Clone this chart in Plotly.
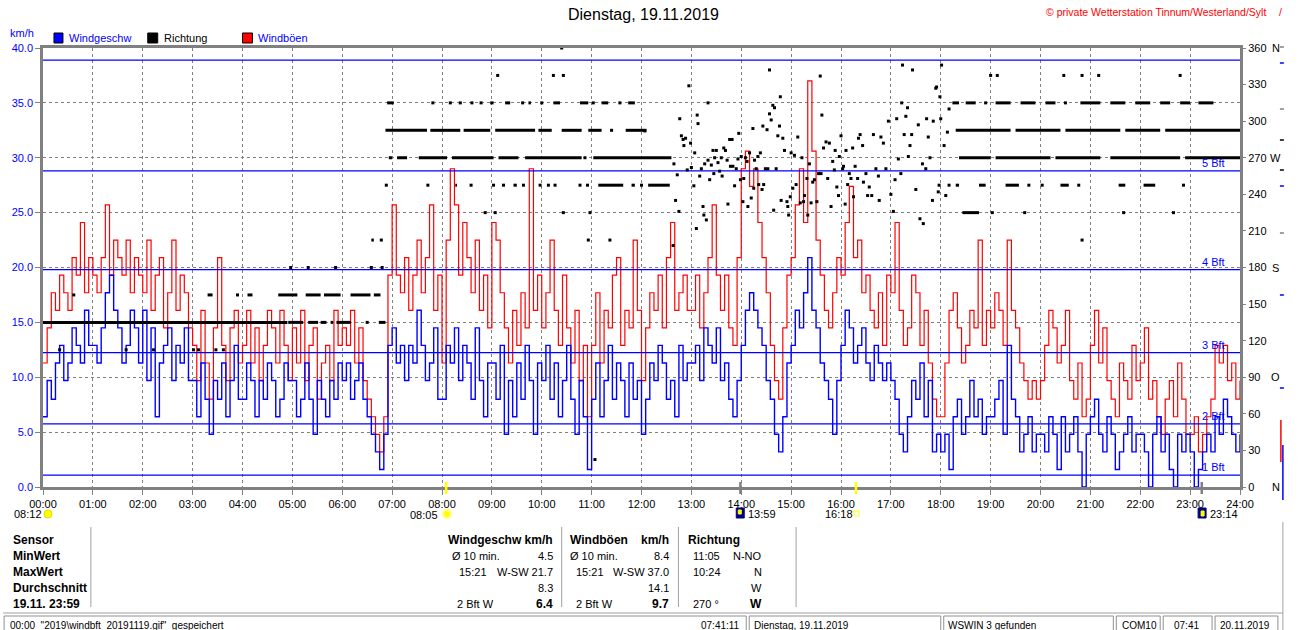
import plotly.graph_objects as go

FONT = "Liberation Sans, Arial, sans-serif"
KMH_PER_MPH = 1.609344

hour_labels = ["00:00", "01:00", "02:00", "03:00", "04:00", "05:00", "06:00", "07:00",
               "08:00", "09:00", "10:00", "11:00", "12:00", "13:00", "14:00", "15:00",
               "16:00", "17:00", "18:00", "19:00", "20:00", "21:00", "22:00", "23:00", "24:00"]

# 5-minute samples, station logs whole mph values
wind_mph = [
    4, 6, 5, 7, 8, 6, 7, 9, 8, 7, 10, 8,        # 00
    8, 7, 9, 11, 12, 10, 9, 7, 8, 10, 9, 7,     # 01
    10, 6, 9, 4, 7, 8, 9, 6, 8, 7, 9, 6,        # 02
    6, 4, 7, 5, 3, 6, 5, 7, 4, 6, 8, 5,         # 03
    5, 7, 6, 4, 6, 5, 7, 6, 4, 5, 7, 6,         # 04
    6, 4, 5, 7, 5, 3, 6, 5, 4, 6, 5, 7,         # 05
    6, 7, 5, 6, 7, 5, 4, 3, 2, 1, 3, 8,         # 06
    9, 7, 8, 6, 8, 7, 10, 8, 6, 7, 9, 5,        # 07
    5, 8, 7, 9, 6, 8, 7, 5, 9, 6, 4, 7,         # 08
    7, 5, 8, 3, 6, 4, 7, 5, 8, 6, 3, 7,         # 09
    6, 8, 5, 7, 4, 6, 8, 5, 3, 6, 4, 1,         # 10
    5, 7, 4, 6, 8, 5, 7, 6, 4, 7, 5, 6,         # 11
    3, 5, 7, 6, 8, 7, 5, 6, 4, 8, 6, 7,         # 12
    7, 8, 6, 9, 8, 7, 9, 6, 7, 5, 4, 6,         # 13
    8, 10, 11, 10, 9, 8, 6, 5, 3, 2, 4, 7,      # 14
    8, 10, 9, 11, 13, 10, 9, 7, 6, 5, 3, 6,     # 15
    8, 10, 9, 7, 8, 9, 7, 6, 8, 7, 6, 7,        # 16
    6, 5, 3, 2, 4, 6, 5, 7, 4, 6, 2, 3,         # 17
    2, 3, 1, 4, 5, 3, 4, 6, 4, 5, 3, 4,         # 18
    4, 5, 6, 3, 8, 5, 4, 2, 3, 4, 2, 3,         # 19
    3, 2, 4, 3, 1, 4, 2, 3, 4, 2, 0, 3,         # 20
    4, 5, 3, 2, 4, 3, 1, 2, 3, 4, 2, 3,         # 21
    3, 2, 0, 3, 4, 2, 3, 1, 0, 3, 2, 3,         # 22
    2, 0, 1, 2, 3, 2, 4, 3, 5, 4, 3, 2,         # 23
    3]

gust_mph = [
    7, 9, 11, 10, 12, 11, 10, 13, 12, 15, 11, 13,    # 00
    12, 11, 13, 16, 12, 14, 13, 12, 14, 11, 13, 12,  # 01
    11, 14, 10, 12, 13, 9, 11, 14, 10, 12, 11, 9,    # 02
    8, 6, 10, 7, 5, 9, 13, 8, 6, 9, 10, 7,           # 03
    8, 10, 7, 9, 6, 8, 10, 9, 7, 10, 8, 6,           # 04
    9, 7, 10, 6, 8, 9, 5, 7, 8, 6, 10, 8,            # 05
    9, 8, 10, 7, 9, 6, 5, 4, 3, 2, 4, 12,            # 06
    16, 12, 11, 13, 10, 12, 14, 11, 13, 16, 10, 12,  # 07
    7, 14, 18, 16, 12, 15, 13, 11, 14, 10, 12, 9,    # 08
    15, 14, 11, 9, 7, 10, 8, 11, 9, 18, 10, 12,      # 09
    9, 11, 14, 10, 8, 12, 9, 7, 10, 6, 8, 4,         # 10
    8, 11, 7, 10, 9, 12, 13, 8, 10, 9, 14, 10,       # 11
    6, 9, 11, 10, 12, 9, 13, 15, 10, 11, 12, 10,     # 12
    10, 12, 9, 11, 13, 16, 12, 10, 12, 9, 8, 13,     # 13
    18, 19, 17, 18, 15, 13, 11, 8, 6, 5, 9, 12,      # 14
    13, 16, 18, 15, 23, 19, 14, 12, 10, 9, 11, 13,   # 15
    12, 15, 17, 13, 14, 11, 12, 10, 9, 11, 8, 12,    # 16
    11, 15, 10, 8, 9, 12, 11, 8, 10, 7, 5, 4,        # 17
    4, 7, 10, 11, 9, 7, 8, 10, 9, 14, 8, 10,         # 18
    9, 11, 10, 8, 14, 10, 9, 7, 6, 5, 6, 5,          # 19
    6, 8, 10, 9, 7, 8, 10, 6, 5, 7, 4, 5,            # 20
    8, 10, 7, 9, 6, 5, 4, 7, 6, 5, 8, 6,             # 21
    7, 9, 5, 6, 4, 3, 5, 6, 4, 7, 5, 3,              # 22
    3, 4, 2, 3, 4, 5, 8, 7, 8, 6, 7, 5,              # 23
    6]

# direction: runs of consecutive readings in one sector (minutes since midnight)
dir_seg_deg = [135, 135, 135, 135, 135, 135, 135,
               157.5, 157.5, 157.5, 157.5, 157.5, 157.5, 157.5,
               202.5, 225,
               247.5, 247.5, 247.5, 247.5, 247.5, 247.5, 247.5, 247.5, 247.5, 247.5, 247.5,
               270, 270, 270, 270, 270, 270, 270, 270, 270, 270, 270, 270,
               292.5, 292.5, 292.5, 292.5, 292.5, 292.5, 292.5, 292.5, 292.5, 292.5, 292.5, 292.5, 292.5,
               315, 315, 315, 315, 315, 315, 315, 315, 315, 315, 315, 315, 315, 315, 315, 315, 315, 315, 315]
dir_seg_start = [0, 295, 319, 334, 346, 353, 404,
                 198, 246, 283, 316, 338, 370, 398,
                 395, 1106,
                 496, 566, 668, 708, 728, 1098, 1126, 1158, 1224, 1294, 1324,
                 416, 426, 452, 492, 548, 580, 662, 1102, 1146, 1218, 1284, 1374,
                 412, 466, 506, 544, 596, 624, 656, 701, 1098, 1170, 1230, 1302, 1350,
                 414, 538, 556, 584, 614, 646, 672, 704, 1094, 1110, 1146, 1176, 1206, 1248, 1284, 1314, 1344, 1368, 1390]
dir_seg_end = [294, 313, 331, 341, 349, 370, 412,
               204, 252, 306, 334, 358, 394, 406,
               398, 1126,
               498, 570, 698, 712, 754, 1102, 1134, 1174, 1234, 1302, 1338,
               420, 438, 486, 542, 572, 648, 756, 1140, 1212, 1272, 1368, 1440,
               462, 502, 538, 592, 612, 648, 672, 726, 1164, 1224, 1296, 1344, 1440,
               422, 542, 562, 587, 622, 656, 680, 712, 1102, 1122, 1164, 1194, 1218, 1272, 1302, 1332, 1356, 1380, 1408]

# direction: isolated sector readings
dir_pt_min = [20, 100, 133, 181, 187, 208, 217,
              390, 37, 234,
              298, 319, 352, 395, 408,
              407, 656, 682, 1250,
              532, 544, 626, 658, 1142, 1181, 1300, 1360,
              413, 463, 515, 542, 554, 578, 598, 608, 616, 646, 655, 720, 1078, 1090, 1186, 1202, 1246, 1372,
              652, 684,
              469, 490, 502, 516, 527, 577, 600, 662, 694, 1134, 1230,
              547, 614, 626, 1140, 1148, 1228, 1250, 1270, 1368,
              624, 664]
dir_pt_deg = [112.5, 112.5, 112.5, 112.5, 112.5, 112.5, 112.5,
              135, 157.5, 157.5,
              180, 180, 180, 180, 180,
              202.5, 202.5, 202.5, 202.5,
              225, 225, 225, 225, 225, 225, 225, 225,
              247.5, 247.5, 247.5, 247.5, 247.5, 247.5, 247.5, 247.5, 247.5, 247.5, 247.5, 247.5,
              247.5, 247.5, 247.5, 247.5, 247.5, 247.5,
              270, 292.5,
              315, 315, 315, 315, 315, 315, 315, 315, 315, 315, 315,
              337.5, 337.5, 337.5, 337.5, 337.5, 337.5, 337.5, 337.5, 337.5,
              360, 22.5]

# direction: variable readings 12:00 - 18:00 (degrees)
dir_var_min = [724, 758, 759, 761, 763, 765, 766, 768, 770, 771,
               773, 775, 777, 779, 780, 783, 784, 786, 787, 788,
               790, 792, 794, 795, 796, 798, 800, 800, 802, 804,
               806, 807, 808, 810, 812, 814, 816, 817, 819, 821,
               823, 824, 826, 827, 829, 830, 832, 834, 836, 837,
               839, 840, 842, 843, 845, 847, 848, 850, 852, 854,
               855, 856, 858, 860, 861, 863, 865, 866, 867, 869,
               871, 872, 874, 874, 876, 878, 879, 880, 882, 884,
               886, 887, 888, 890, 892, 895, 896, 897, 899, 900,
               902, 904, 906, 908, 911, 913, 915, 916, 919, 920,
               922, 924, 926, 928, 931, 933, 935, 936, 937, 939,
               942, 944, 946, 948, 950, 952, 953, 955, 957, 958,
               960, 962, 963, 965, 966, 968, 970, 972, 974, 975,
               977, 980, 981, 983, 986, 987, 990, 992, 994, 997,
               999, 1002, 1005, 1006, 1008, 1011, 1014, 1017, 1020, 1023,
               1025, 1027, 1029, 1032, 1033, 1034, 1036, 1038, 1040, 1041,
               1043, 1045, 1046, 1050, 1053, 1055, 1058, 1059, 1062, 1063,
               1065, 1067, 1070, 1071, 1074, 1075, 1077, 1079, 1080, 1081,
               1084, 1086, 1088, 1090]
dir_var_deg = [292, 198, 265, 235, 256, 226, 302, 288, 285, 280,
               286, 260, 329, 282, 262, 247, 274, 212, 305, 298,
               255, 261, 230, 223, 265, 219, 315, 268, 252, 264,
               276, 257, 270, 276, 266, 259, 270, 255, 278, 276,
               268, 232, 285, 263, 285, 263, 247, 261, 269, 290,
               252, 271, 234, 253, 270, 267, 230, 274, 237, 294,
               245, 268, 261, 271, 248, 274, 244, 296, 248, 261,
               293, 261, 342, 306, 301, 313, 227, 311, 261, 288,
               296, 320, 235, 286, 276, 234, 230, 223, 238, 274,
               245, 272, 248, 287, 233, 270, 234, 239, 253, 223,
               265, 233, 250, 252, 234, 257, 337, 257, 305, 278,
               283, 253, 282, 230, 267, 260, 276, 246, 239, 271,
               288, 261, 263, 232, 276, 248, 257, 253, 278, 238,
               263, 253, 286, 289, 280, 250, 257, 239, 246, 239,
               289, 261, 255, 235, 287, 282, 261, 300, 240, 226,
               252, 302, 269, 257, 315, 346, 289, 304, 311, 271,
               280, 289, 342, 244, 297, 220, 265, 216, 261, 302,
               287, 270, 235, 300, 327, 328, 242, 320, 302, 346,
               280, 239, 291, 310]

bft_kmh = [1.08, 5.76, 12.24, 19.8, 28.8, 38.9]
bft_labels = ["1 Bft", "2 Bft", "3 Bft", "4 Bft", "5 Bft", ""]

deg_ticks = [0, 30, 60, 90, 120, 150, 180, 210, 240, 270, 300, 330, 360]
deg_letters = ["N", "", "", "O", "", "", "S", "", "", "W", "", "", "N"]
kmh_ticks = [0, 5, 10, 15, 20, 25, 30, 35, 40]

# sun / moon events
event_minutes = [485, 839, 978, 1394]
event_colors = ["#ffff00", "#808080", "#ffff00", "#808080"]

table_labels = ["Sensor", "MinWert", "MaxWert", "Durchschnitt", "19.11. 23:59"]
status_fields = ['00:00  "2019\\windbft_20191119.gif"  gespeichert', "07:41:11",
                 "Dienstag, 19.11.2019", "WSWIN 3 gefunden", "COM10", "07:41", "20.11.2019"]

# ------------------------------------------------------------------
W, H = 1310, 630
PL, PR, PT, PB = 40, 1240, 48, 487


def px(x):
    return (x - PL) / (PR - PL)


def py(y):
    return (PB - y) / (PB - PT)


wind_kmh = [round(v * KMH_PER_MPH, 1) for v in wind_mph]
gust_kmh = [round(v * KMH_PER_MPH, 1) for v in gust_mph]
t_wind = [5 * i for i in range(len(wind_kmh))]
t_gust = [5 * i for i in range(len(gust_kmh))]

fig = go.Figure()

fig.add_trace(go.Scatter(x=t_gust, y=gust_kmh, mode="lines", line=dict(color="#ff0000", width=1.2, shape="hv"),
                         hoverinfo="skip"))
fig.add_trace(go.Scatter(x=t_wind, y=wind_kmh, mode="lines", line=dict(color="#0000ff", width=1.4, shape="hv"),
                         hoverinfo="skip"))

sx, sy = [], []
for d, a, b in zip(dir_seg_deg, dir_seg_start, dir_seg_end):
    sx += [a, b, None]
    sy += [d, d, None]
fig.add_trace(go.Scatter(x=sx, y=sy, yaxis="y2", mode="lines", line=dict(color="black", width=3),
                         hoverinfo="skip"))
fig.add_trace(go.Scatter(x=dir_pt_min + dir_var_min, y=dir_pt_deg + dir_var_deg, yaxis="y2", mode="markers",
                         marker=dict(symbol="square", size=3, color="black", line=dict(width=0)),
                         hoverinfo="skip"))

for v in bft_kmh:
    fig.add_trace(go.Scatter(x=[0, 1440], y=[v, v], mode="lines", line=dict(color="#0000ff", width=1.3),
                             hoverinfo="skip"))

ann = []
shapes = []


def note(text, x, y, xa="left", ya="middle", size=11, color="black", bold=False):
    if bold:
        text = "<b>" + text + "</b>"
    ann.append(dict(text=text, x=px(x), y=py(y), xref="paper", yref="paper", xanchor=xa, yanchor=ya,
                    showarrow=False, font=dict(family=FONT, size=size, color=color)))


def rect(x0, y0, x1, y1, fill=None, line="#808080", lw=1):
    shapes.append(dict(type="rect", xref="paper", yref="paper", x0=px(x0), x1=px(x1), y0=py(y1), y1=py(y0),
                       fillcolor=fill if fill else "rgba(0,0,0,0)", line=dict(color=line, width=lw),
                       layer="above"))


def hline(x0, x1, y, color="#a0a0a0", lw=1):
    shapes.append(dict(type="line", xref="paper", yref="paper", x0=px(x0), x1=px(x1), y0=py(y), y1=py(y),
                       line=dict(color=color, width=lw)))


def vline(x, y0, y1, color="#a0a0a0", lw=1):
    shapes.append(dict(type="line", xref="paper", yref="paper", x0=px(x), x1=px(x), y0=py(y0), y1=py(y1),
                       line=dict(color=color, width=lw)))


# header
note("Dienstag, 19.11.2019", 642, 15, xa="center", size=16)
note("© private Wetterstation Tinnum/Westerland/Sylt", 1268, 12, xa="right", size=10.5, color="#ff0000")
note("/", 1281, 12, xa="center", size=10.5, color="#ff0000")
note("km/h", 5, 33, size=11, color="#0000ff")

# legend
rect(51, 33, 60, 43, fill="#0000ff", line="black")
note("Windgeschw", 64, 38, size=11, color="#0000ff")
rect(145, 33, 155, 43, fill="black", line="black")
note("Richtung", 159, 38, size=11, color="black")
rect(240, 33, 250, 43, fill="#ff0000", line="black")
note("Windböen", 254, 38, size=11, color="#0000ff")

# Beaufort labels
for v, lab in zip(bft_kmh, bft_labels):
    if lab:
        ann.append(dict(text=lab, x=px(1227), y=v, xref="paper", yref="y", xanchor="right", yanchor="bottom",
                        showarrow=False, yshift=0, font=dict(family=FONT, size=11, color="#0000ff")))

# compass letters on right axis
for d, letter in zip(deg_ticks, deg_letters):
    if letter:
        ann.append(dict(text=letter, x=px(1276), y=d, xref="paper", yref="y2", xanchor="center",
                        yanchor="middle", showarrow=False, font=dict(family=FONT, size=11, color="black")))

# sun / moon event marks on the time axis
for m, c in zip(event_minutes, event_colors):
    shapes.append(dict(type="line", xref="x", yref="paper", x0=m, x1=m, y0=py(494), y1=py(482),
                       line=dict(color=c, width=2.5)))

note("08:12", 9, 514, size=11)
shapes.append(dict(type="circle", xref="paper", yref="paper", x0=px(41), x1=px(49), y0=py(518), y1=py(510),
                   fillcolor="#ffff00", line=dict(color="#e0e000", width=1)))
note("08:05", 438, 515, xa="right", size=11)
shapes.append(dict(type="circle", xref="paper", yref="paper", x0=px(441), x1=px(449), y0=py(518), y1=py(510),
                   fillcolor="#ffff00", line=dict(color="#ffff80", width=2)))
rect(735, 508, 743, 518, fill="#000080", line="#000080")
rect(737, 510, 740, 514, fill="#ffff00", line="#ffff00")
note("13:59", 745, 514, size=11)
note("16:18", 822, 514, size=11)
rect(853, 511, 858, 516, fill=None, line="#ffff00")
rect(1198, 508, 1206, 518, fill="#000080", line="#000080")
rect(1201, 511, 1204, 516, fill="#ffff00", line="#ffff00")
note("23:14", 1208, 514, size=11)

# statistics table
for i, lab in enumerate(table_labels):
    note(lab, 8, 540 + 16 * i, size=12, bold=True)
for xs in [88, 560, 677, 795]:
    vline(xs, 527, 607)

cells = [
    ("Windgeschw km/h", 553, 540, "right", True),
    ("Ø 10 min.", 448, 556, "left", False), ("4.5", 553, 556, "right", False),
    ("15:21", 455, 572, "left", False), ("W-SW 21.7", 553, 572, "right", False),
    ("8.3", 553, 588, "right", False),
    ("2 Bft W", 453, 604, "left", False), ("6.4", 553, 604, "right", True),
    ("Windböen", 566, 540, "left", True), ("km/h", 670, 540, "right", True),
    ("Ø 10 min.", 566, 556, "left", False), ("8.4", 670, 556, "right", False),
    ("15:21", 572, 572, "left", False), ("W-SW 37.0", 670, 572, "right", False),
    ("14.1", 670, 588, "right", False),
    ("2 Bft W", 572, 604, "left", False), ("9.7", 670, 604, "right", True),
    ("Richtung", 685, 540, "left", True),
    ("11:05", 690, 556, "left", False), ("N-NO", 763, 556, "right", False),
    ("10:24", 690, 572, "left", False), ("N", 763, 572, "right", False),
    ("W", 763, 588, "right", False),
    ("270 °", 690, 604, "left", False), ("W", 763, 604, "right", True),
]
for text, x, y, a, b in cells:
    note(text, x, y, xa=a, size=12 if b else 11, bold=b)

# status bar
hline(0, 1283, 613, color="#a0a0a0", lw=1)
vline(1283, 522, 630, color="#a0a0a0", lw=1)
for x0, x1 in [(1, 745), (748, 940), (943, 1113), (1116, 1160), (1163, 1212), (1215, 1278)]:
    rect(x0, 616, x1, 634, fill=None, line="#909090")
status_pos = [(5, "left"), (741, "right"), (751, "left"), (945, "left"), (1120, "left"), (1172, "left"),
              (1218, "left")]
for text, (x, a) in zip(status_fields, status_pos):
    ann.append(dict(text=text, x=px(x), y=py(618), xref="paper", yref="paper", xanchor=a, yanchor="top",
                    showarrow=False, font=dict(family=FONT, size=10, color="black")))

# edge of neighbouring panel
for y, c in [(47, "#808080"), (63, "#0000ff"), (109, "#808080"), (140, "black"), (170, "black"),
             (186, "#0000ff"), (233, "#808080"), (295, "#0000ff"), (388, "#0000ff")]:
    hline(1280, 1284, y, color=c, lw=1.5)
vline(1281, 420, 462, color="#ff0000", lw=1.5)
vline(1283, 445, 500, color="#0000ff", lw=1.5)

fig.update_layout(
    width=W, height=H, autosize=False,
    margin=dict(l=40, r=70, t=48, b=143, pad=0),
    paper_bgcolor="white", plot_bgcolor="white",
    showlegend=False,
    font=dict(family=FONT, size=11, color="black"),
    xaxis=dict(range=[0, 1440], tickvals=[60 * i for i in range(25)], ticktext=hour_labels,
               ticks="outside", ticklen=5, tickcolor="#808080", tickwidth=1,
               showgrid=True, gridcolor="#808080", gridwidth=1, griddash="3px,3px",
               showline=True, linecolor="#808080", linewidth=2.5, mirror=True, zeroline=False,
               tickfont=dict(family=FONT, size=11, color="black"), fixedrange=True),
    yaxis=dict(range=[0, 40], tickvals=kmh_ticks, ticktext=["%.1f" % v for v in kmh_ticks],
               ticks="outside", ticklen=5, tickcolor="#808080",
               showgrid=True, gridcolor="#808080", gridwidth=1, griddash="3px,3px",
               showline=True, linecolor="#808080", linewidth=2.5, mirror=True, zeroline=False,
               tickfont=dict(family=FONT, size=11, color="#0000ff"), fixedrange=True),
    yaxis2=dict(range=[0, 360], overlaying="y", side="right", tickvals=deg_ticks,
                ticktext=[str(d) for d in deg_ticks], ticks="outside", ticklen=5, tickcolor="#808080",
                showgrid=False, showline=False, zeroline=False,
                tickfont=dict(family=FONT, size=11, color="black"), fixedrange=True),
    annotations=ann, shapes=shapes,
)

fig.write_html("out.html", config={"displayModeBar": False},
               post_script="document.body.style.margin='0px';document.body.style.overflow='hidden';")
